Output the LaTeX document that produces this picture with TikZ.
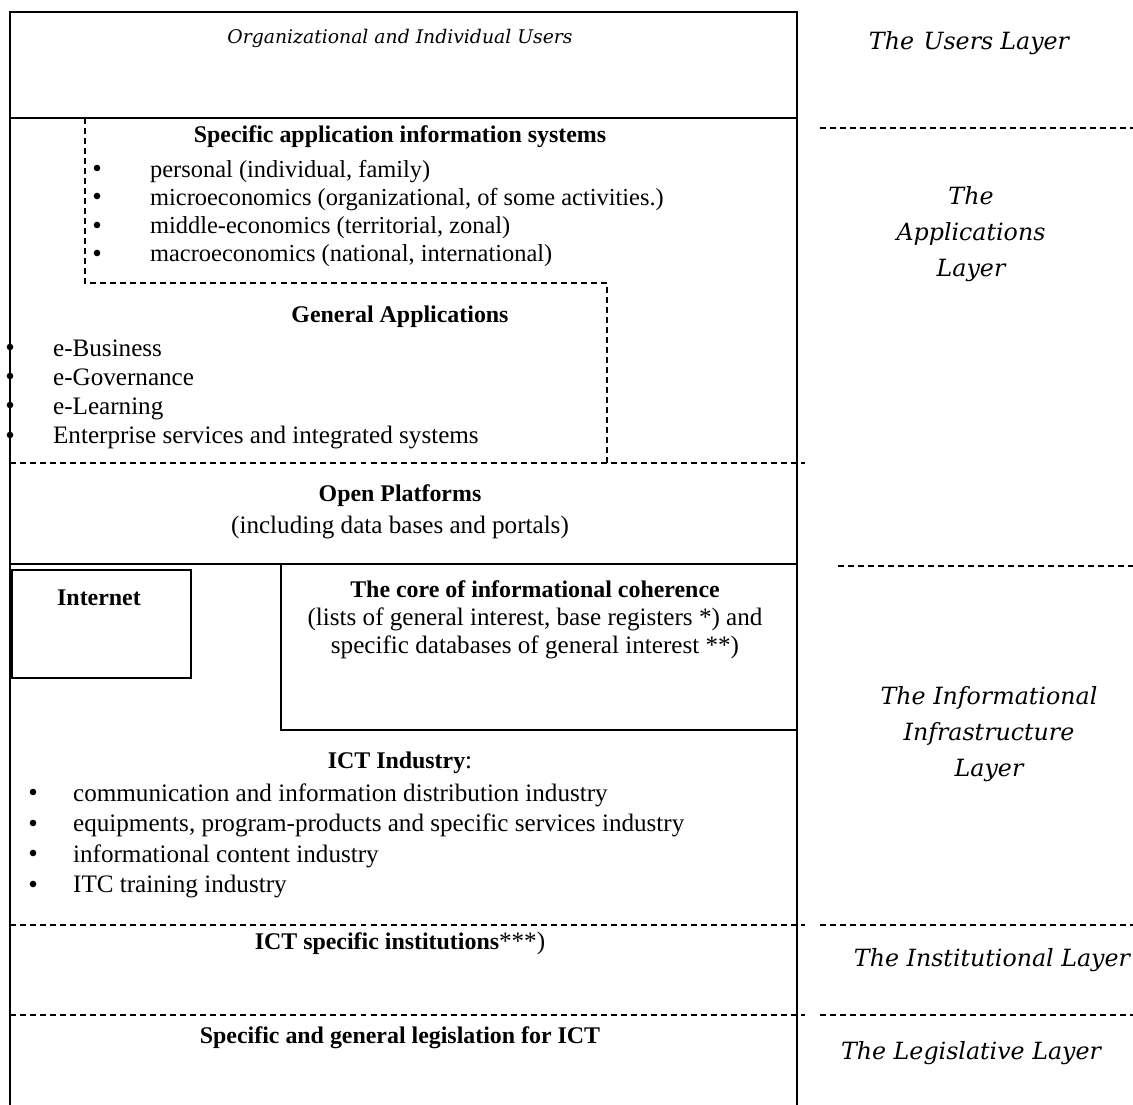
\documentclass[tikz,border=0pt]{standalone}
\usepackage{fontspec}
\setmainfont{Liberation Serif}
\newfontfamily\layerfont{DejaVu Serif}
\usetikzlibrary{positioning}

\newcommand{\dotmark}{\smash{\raisebox{-0.4pt}{\fontsize{15.5}{15.5}\selectfont •}}}

\tikzstyle{frame} = [line width=0.9pt]
\tikzstyle{sepline} = [line width=0.6pt, dash pattern=on 3.4pt off 2.3pt]
\tikzstyle{heading} = [font=\fontsize{13.6}{16}\selectfont\bfseries, inner sep=0pt]
\tikzstyle{plain} = [font=\fontsize{14.3}{16}\selectfont, inner sep=0pt, align=center]
\tikzstyle{itemlist} = [font=\fontsize{14.3}{16.4}\selectfont, inner sep=0pt, anchor=base west]
\tikzstyle{layerLabel} = [font=\layerfont\itshape\fontsize{13.5}{20.4}\selectfont, align=center, inner sep=0pt]

\begin{document}
\begin{tikzpicture}[x=0.02cm, y=-0.02cm]
    \useasboundingbox (0,0) rectangle (1133,1105);

    % main column
    \draw [frame] (10,1105) -- (10,12) -- (797,12) -- (797,1105);
    \draw [frame] (10,118) -- (797,118);
    \draw [frame] (10,564) -- (797,564);
    \draw [sepline] (85,118) -- (85,283) -- (607,283) -- (607,463);
    \draw [sepline] (10,463) -- (805,463);
    \draw [sepline] (10,925) -- (805,925);
    \draw [sepline] (10,1015) -- (805,1015);
    \draw [frame] (12,570) rectangle (191,678);
    \draw [frame] (281,564) rectangle (797,730);

    \node (users)[font=\layerfont\itshape\fontsize{10.7}{12}\selectfont] at (400,38) {Organizational and Individual Users};

    \node (specific)[heading] at (400,137) {Specific application information systems};
    \node (specific_list)[itemlist, font=\fontsize{13.9}{16.4}\selectfont] at (92,177) {\renewcommand{\arraystretch}{0.98}%
      \begin{tabular}[t]{@{}p{32.9pt}@{}l@{}}
        \dotmark & personal (individual, family)\\
        \dotmark & microeconomics (organizational, of some activities.)\\
        \dotmark & middle-economics (territorial, zonal)\\
        \dotmark & macroeconomics (national, international)
      \end{tabular}};

    \node (general)[heading] at (400,317) {General Applications};
    \node (general_list)[itemlist] at (5,356) {\renewcommand{\arraystretch}{1.01}%
      \begin{tabular}[t]{@{}p{27.2pt}@{}l@{}}
        \dotmark & e-Business\\
        \dotmark & e-Governance\\
        \dotmark & e-Learning\\
        \dotmark & Enterprise services and  integrated systems
      \end{tabular}};

    \node (platforms)[heading] at (400,496) {Open Platforms};
    \node (platforms_sub)[plain, below=0.62cm of platforms.center, anchor=center] {(including data bases and portals)};

    \node (internet)[heading] at (99,598) {Internet};
    \node (core)[plain, font=\fontsize{14.3}{15.9}\selectfont] at (535,620) {\textbf{\fontsize{13.6}{15.9}\selectfont The core of informational coherence}\\
      (lists of  general interest, base registers *) and\\
      specific databases of general interest **)};

    \node (ict)[plain] at (400,763) {\textbf{\fontsize{13.6}{16}\selectfont ICT Industry}:};
    \node (ict_list)[itemlist] at (28,801) {\renewcommand{\arraystretch}{1.06}%
      \begin{tabular}[t]{@{}p{25.5pt}@{}l@{}}
        \dotmark & communication and information distribution industry\\
        \dotmark & equipments, program-products and specific services industry\\
        \dotmark & informational content industry\\
        \dotmark & ITC training industry
      \end{tabular}};

    \node (institutions)[plain] at (400,943) {\textbf{\fontsize{13.6}{16}\selectfont ICT specific institutions}***)};
    \node (legislation)[heading] at (400,1038) {Specific and general legislation for ICT};

    % layer names
    \draw [sepline] (820,128) -- (1133,128);
    \draw [sepline] (838,566) -- (1133,566);
    \draw [sepline] (820,925) -- (1133,925);
    \draw [sepline] (820,1015) -- (1133,1015);

    \node (l_users)[layerLabel] at (969,43) {The\hspace{0.4em}Users\hspace{0.3em}Layer};
    \node (l_apps)[layerLabel] at (971,234) {The\\Applications\\Layer};
    \node (l_infra)[layerLabel] at (989,734) {The Informational\\Infrastructure\\Layer};
    \node (l_inst)[layerLabel] at (992,960) {The Institutional Layer};
    \node (l_legis)[layerLabel] at (971,1053) {The Legislative Layer};
\end{tikzpicture}
\end{document}
